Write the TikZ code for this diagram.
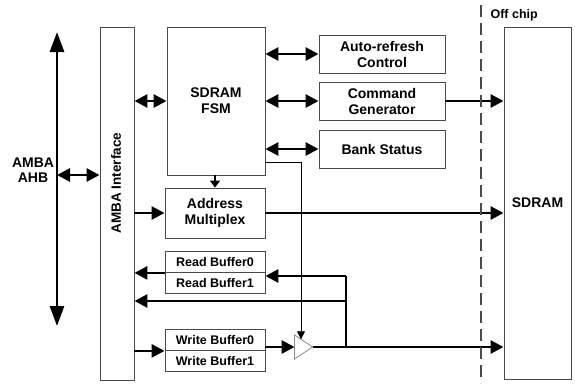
\documentclass[tikz,border=0pt]{standalone}
\usepackage{fontspec}
\setmainfont{Liberation Sans}
\usetikzlibrary{arrows.meta,calc,shapes.geometric}
\definecolor{ink}{HTML}{000000}
\definecolor{frame}{HTML}{4A4A4A}
\definecolor{drv}{HTML}{8C8C8C}

\begin{document}
\begin{tikzpicture}[x=1pt,y=-1pt,font=\bfseries\fontsize{14}{16}\selectfont,text=ink,
  blk/.style={draw=frame,line width=.9pt,inner sep=0pt,align=center},
  small/.style={font=\bfseries\fontsize{12.5}{14}\selectfont},
  bus/.style={line width=2.8pt,draw=ink,-{Triangle[length=13pt,width=13pt]}},
  bibus/.style={line width=2.8pt,draw=ink,{Triangle[length=13pt,width=13pt]}-{Triangle[length=13pt,width=13pt]}},
  wire/.style={line width=.8pt,draw=ink,-{Triangle[length=8pt,width=8pt]}}]
\path[use as bounding box] (0,0) rectangle (575,383);
% On-chip controller blocks
\node[blk,minimum width=34,minimum height=353] (iface) at (117,203.5) {};
\node[rotate=90,font=\bfseries\fontsize{13.5}{15}\selectfont] (ifacelbl) at (116,183) {AMBA Interface};
\node[blk,minimum width=98,minimum height=148] (fsm) at (216,101) {SDRAM\\FSM};
\node[blk,minimum width=100,minimum height=50] (addr) at (215,213) {Address\\Multiplex};
\foreach \y/\name/\txt in {251/rb0/Read Buffer0,272/rb1/Read Buffer1,329/wb0/Write Buffer0,350/wb1/Write Buffer1}{
  \node[blk,small,minimum width=100,minimum height=21,anchor=north] (\name) at (215,\y) {\txt};
}
\node[blk,minimum width=67,minimum height=352] (sdram) at (537.5,203) {SDRAM};
\node[draw=drv,line width=.8pt,isosceles triangle,isosceles triangle stretches,
  minimum width=24,minimum height=18,inner sep=0pt,outer sep=0pt] (tri) at (301,347) {};

% Bus on the left
\node[align=center,font=\bfseries\fontsize{14}{15}\selectfont] (ahb) at (33,170) {AMBA\\AHB};
\coordinate (ahbtop) at (57,32);
\coordinate (ahbbot) at (57,326);
\coordinate (ahbjoin) at (57,175);
\draw[line width=2.8pt,{Triangle[length=20pt,width=14pt]}-{Triangle[length=20pt,width=14pt]}] (ahbtop) -- (ahbbot);
\draw[bibus] (ahbjoin) -- (ahbjoin -| iface.west);
\draw[bibus] (iface.east |- fsm) -- (fsm);

% FSM side blocks
\foreach \y/\name/\txt in {54/refresh/{Auto-refresh\\Control},101/cmdgen/{Command\\Generator},149/bank/{Bank Status}}{
  \node[blk,minimum width=126,minimum height=38] (\name) at (382,\y) {\txt};
  \draw[bibus] (fsm.east |- \name) -- (\name);
}
\draw[bus] (cmdgen) -- (cmdgen -| sdram.west);

% Address path
\draw[line width=2pt,-{Triangle[length=7pt,width=10pt]}] (addr.north |- fsm.south) -- (addr.north);
\draw[bus] (iface.east |- addr) -- (addr);
\draw[bus] (addr) -- (addr -| sdram.west);

% Data path
\coordinate (rdtop) at (346,276);
\coordinate (rdfork) at (346,301);
\coordinate (rdbase) at (346,348);
\draw[bus] (rb0.south west) -- (rb0.south west -| iface.east);
\draw[bus] (rdtop) -- (rdtop -| rb1.east);
\draw[line width=2.8pt] (rdtop) -- (rdbase);
\draw[bus] (rdfork) -- (rdfork -| iface.east);
\draw[bus] (iface.east |- wb0.south) -- (wb0.south west);
\draw[bus] (tri -| wb0.east) -- (tri);
\draw[bus] (tri.apex) -- (tri.apex -| sdram.west);
\coordinate (ctl) at (301,162);
\draw[wire] (ctl -| fsm.east) -- (ctl) -- (tri);

% Chip boundary
\draw[draw=frame,line width=2pt,dash pattern=on 12pt off 6pt] (481,5) -- (481,383);
\node[small,anchor=west] (offchip) at (487,15) {Off chip};
\end{tikzpicture}
\end{document}
